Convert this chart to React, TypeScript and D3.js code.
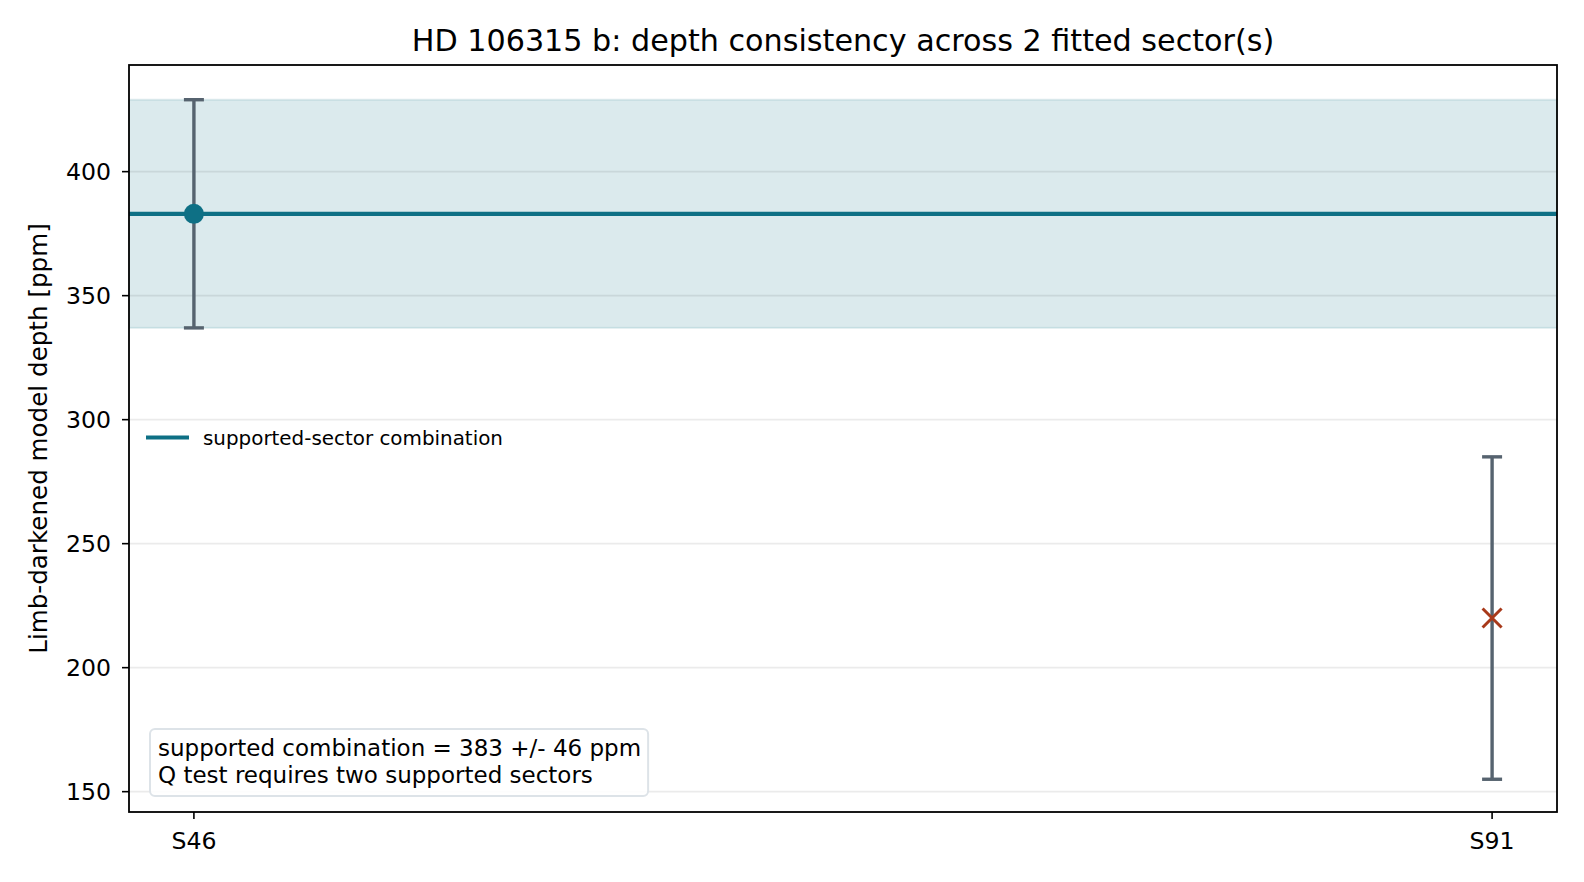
import { useRef, useEffect } from 'react';
import * as d3 from 'd3';

const sectors = ['S46', 'S91'];
const depths = [383, 220];
const depthErrors = [46, 65];
const supported = [true, false];
const combinedDepth = 383;
const combinedError = 46;
const yTicks = [150, 200, 250, 300, 350, 400];
const yLimits = [141.8, 443];
const noteLines = ['supported combination = 383 +/- 46 ppm', 'Q test requires two supported sectors'];

const TEAL = '#0e7085';
const SLATE = '#56636f';
const RUST = '#a8391a';
const FONT = '"DejaVu Sans", sans-serif';

export default function App() {
    const ref = useRef<SVGSVGElement | null>(null);

    useEffect(() => {
        if (!ref.current) return;
        document.body.style.margin = '0';
        const W = 1584;
        const H = 882;
        const m = { left: 129, right: 1557, top: 65, bottom: 812 };
        const svg = d3.select(ref.current);
        svg.selectAll('*').remove();
        svg.attr('width', W).attr('height', H).style('font-family', FONT).style('display', 'block');
        svg.append('rect').attr('width', W).attr('height', H).attr('fill', '#fff');

        const x = d3.scaleLinear().domain([-0.05, sectors.length - 1 + 0.05]).range([m.left, m.right]);
        const y = d3.scaleLinear().domain(yLimits).range([m.bottom, m.top]);

        const plot = svg.append('g');

        // supported-sector band
        plot
            .append('rect')
            .attr('x', m.left)
            .attr('width', m.right - m.left)
            .attr('y', y(combinedDepth + combinedError))
            .attr('height', y(combinedDepth - combinedError) - y(combinedDepth + combinedError))
            .attr('fill', TEAL)
            .attr('fill-opacity', 0.15)
            .attr('stroke', TEAL)
            .attr('stroke-opacity', 0.12)
            .attr('stroke-width', 2);

        // grid
        plot
            .selectAll('line.grid')
            .data(yTicks)
            .join('line')
            .attr('x1', m.left)
            .attr('x2', m.right)
            .attr('y1', (d) => y(d))
            .attr('y2', (d) => y(d))
            .attr('stroke', '#000')
            .attr('stroke-opacity', 0.08)
            .attr('stroke-width', 1.6);

        // combination line
        plot
            .append('line')
            .attr('x1', m.left)
            .attr('x2', m.right)
            .attr('y1', y(combinedDepth))
            .attr('y2', y(combinedDepth))
            .attr('stroke', TEAL)
            .attr('stroke-width', 4.2);

        // error bars
        sectors.forEach((s, i) => {
            const cx = x(i);
            const g = plot.append('g');
            const top = y(depths[i] + depthErrors[i]);
            const bot = y(depths[i] - depthErrors[i]);
            g.append('line').attr('x1', cx).attr('x2', cx).attr('y1', top).attr('y2', bot).attr('stroke', SLATE).attr('stroke-width', 3.4);
            [top, bot].forEach((yy) =>
                g.append('line').attr('x1', cx - 10).attr('x2', cx + 10).attr('y1', yy).attr('y2', yy).attr('stroke', SLATE).attr('stroke-width', 3.4)
            );
            const cy = y(depths[i]);
            if (supported[i]) {
                g.append('circle').attr('cx', cx).attr('cy', cy).attr('r', 10).attr('fill', TEAL);
            } else {
                const r = 9.5;
                const p = d3.path();
                p.moveTo(cx - r, cy - r);
                p.lineTo(cx + r, cy + r);
                p.moveTo(cx - r, cy + r);
                p.lineTo(cx + r, cy - r);
                g.append('path').attr('d', p.toString()).attr('stroke', RUST).attr('stroke-width', 3).attr('fill', 'none');
            }
        });

        // spines
        svg
            .append('rect')
            .attr('x', m.left)
            .attr('y', m.top)
            .attr('width', m.right - m.left)
            .attr('height', m.bottom - m.top)
            .attr('fill', 'none')
            .attr('stroke', '#000')
            .attr('stroke-width', 1.8);

        // y axis
        const yAxis = svg.append('g');
        yTicks.forEach((t) => {
            yAxis.append('line').attr('x1', m.left - 7).attr('x2', m.left).attr('y1', y(t)).attr('y2', y(t)).attr('stroke', '#000').attr('stroke-width', 1.6);
            yAxis
                .append('text')
                .attr('x', m.left - 18)
                .attr('y', y(t))
                .attr('dy', '0.36em')
                .attr('text-anchor', 'end')
                .attr('font-size', 23.6)
                .attr('fill', '#000')
                .text(t);
        });

        // x axis
        const xAxis = svg.append('g');
        sectors.forEach((s, i) => {
            xAxis.append('line').attr('x1', x(i)).attr('x2', x(i)).attr('y1', m.bottom).attr('y2', m.bottom + 7).attr('stroke', '#000').attr('stroke-width', 1.6);
            xAxis
                .append('text')
                .attr('x', x(i))
                .attr('y', m.bottom + 37)
                .attr('text-anchor', 'middle')
                .attr('font-size', 23.6)
                .attr('fill', '#000')
                .text(s);
        });

        svg
            .append('text')
            .attr('transform', `translate(47,${(m.top + m.bottom) / 2}) rotate(-90)`)
            .attr('text-anchor', 'middle')
            .attr('font-size', 24.6)
            .attr('fill', '#000')
            .text('Limb-darkened model depth [ppm]');

        svg
            .append('text')
            .attr('x', (m.left + m.right) / 2)
            .attr('y', 51)
            .attr('text-anchor', 'middle')
            .attr('font-size', 30.2)
            .attr('fill', '#000')
            .text('HD 106315 b: depth consistency across 2 fitted sector(s)');

        // legend
        const ly = (m.top + m.bottom) / 2 - 1;
        svg.append('line').attr('x1', 146).attr('x2', 189).attr('y1', ly).attr('y2', ly).attr('stroke', TEAL).attr('stroke-width', 4.2);
        svg
            .append('text')
            .attr('x', 203)
            .attr('y', ly)
            .attr('dy', '0.36em')
            .attr('font-size', 19.9)
            .attr('fill', '#000')
            .text('supported-sector combination');

        // note box
        const note = svg.append('g');
        const box = note.append('rect');
        const txt = note.append('text').attr('font-size', 23).attr('fill', '#000');
        noteLines.forEach((l, i) => txt.append('tspan').attr('x', 158).attr('y', 756 + i * 26.5).text(l));
        const bb = (txt.node() as SVGTextElement).getBBox();
        box
            .attr('x', 150)
            .attr('y', 729)
            .attr('width', bb.x + bb.width + 7 - 150)
            .attr('height', 796 - 729)
            .attr('rx', 5)
            .attr('fill', '#fff')
            .attr('fill-opacity', 0.9)
            .attr('stroke', '#dde3e8')
            .attr('stroke-width', 2);
    }, []);

    return <svg ref={ref} />;
}
